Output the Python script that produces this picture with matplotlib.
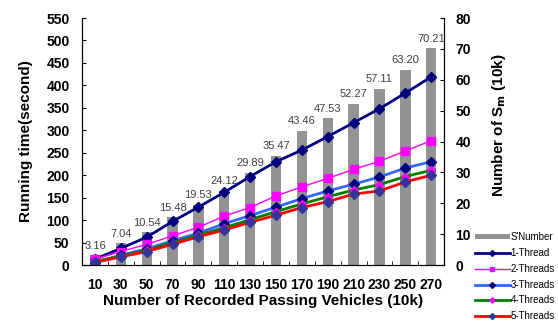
import numpy as np
import matplotlib.pyplot as plt

plt.rcParams['font.family'] = ['Liberation Sans', 'DejaVu Sans']

vehicles = [10, 30, 50, 70, 90, 110, 130, 150, 170, 190, 210, 230, 250, 270]
s_number = [3.16, 7.04, 10.54, 15.48, 19.53, 24.12, 29.89, 35.47, 43.46,
            47.53, 52.27, 57.11, 63.20, 70.21]
thread1 = [13, 37, 62, 97, 129, 162, 197, 230, 256, 286, 317, 348, 383, 419]
thread2 = [13, 30, 46, 65, 84, 109, 128, 154, 174, 193, 213, 231, 254, 277]
thread3 = [5, 22, 36, 54, 71, 92, 110, 129, 148, 165, 180, 196, 216, 230]
thread4 = [8, 20, 33, 50, 67, 83, 101, 119, 136, 152, 167, 179, 197, 211]
thread5 = [6, 18, 30, 46, 63, 78, 95, 111, 128, 141, 158, 165, 185, 200]

x = np.arange(len(vehicles))

fig = plt.figure(figsize=(5.58, 3.22), dpi=100)
ax = fig.add_axes([0.147, 0.177, 0.649, 0.767])
ax2 = ax.twinx()

# bars on the right axis, lines on the left one
ax.set_zorder(ax2.get_zorder() + 1)
ax.patch.set_visible(False)

bars = ax2.bar(x, s_number, width=0.4, color='#939393', label="S'Number")
for xi, v in zip(x, s_number):
    ax2.text(xi, v + 1.5, '%.2f' % v, ha='center', va='bottom',
             fontsize=8, color='#404040')

l1, = ax.plot(x, thread1, color='#000080', lw=2, marker='D', ms=5,
              mfc='#000080', mec='#000080', label='1-Thread')
l2, = ax.plot(x, thread2, color='#ff00ff', lw=1, marker='s', ms=6,
              mfc='#ff00ff', mec='#ff00ff', label='2-Threads')
l3, = ax.plot(x, thread3, color='#3366ff', lw=2, marker='D', ms=5,
              mfc='#000080', mec='#000080', label='3-Threads')
l4, = ax.plot(x, thread4, color='#008000', lw=2, marker='D', ms=4.5,
              mfc='#ff00ff', mec='#ff00ff', label='4-Threads')
l5, = ax.plot(x, thread5, color='#ff0000', lw=2, marker='D', ms=5,
              mfc='#333399', mec='#333399', label='5-Threads')

ax.set_xlim(-0.45, len(x) - 0.55)
ax.set_ylim(0, 550)
ax.set_yticks(np.arange(0, 551, 50))
ax2.set_ylim(0, 80)
ax2.set_yticks(np.arange(0, 81, 10))

ax.set_xticks(x)
ax.set_xticklabels([str(v) for v in vehicles])
ax.set_xticks(np.arange(len(x) + 1) - 0.5, minor=True)
ax.tick_params(axis='x', which='major', length=0, pad=9)
ax.tick_params(axis='x', which='minor', direction='in', length=3)
ax.tick_params(axis='y', direction='in', length=3, pad=9)
ax2.tick_params(axis='y', direction='in', length=3, pad=8)

for a in (ax, ax2):
    a.spines['top'].set_visible(False)
    for lab in a.get_xticklabels() + a.get_yticklabels():
        lab.set_fontweight('bold')
        lab.set_fontsize(10)

ax.set_xlabel('Number of Recorded Passing Vehicles (10k)', fontsize=11,
              fontweight='bold', labelpad=2)
ax.set_ylabel('Running time(second)', fontsize=11, fontweight='bold')
ax.yaxis.set_label_coords(-0.135, 0.5)
ax2.set_ylabel(r'Number of S$_\mathbf{m}$ (10k)', fontsize=11,
               fontweight='bold')
ax2.yaxis.set_label_coords(1.127, 0.567)

fig.legend([bars, l1, l2, l3, l4, l5],
           ["S'Number", '1-Thread', '2-Threads', '3-Threads', '4-Threads',
            '5-Threads'],
           loc='lower right', bbox_to_anchor=(1.01, -0.025), frameon=False,
           fontsize=7, handlelength=3.6, handleheight=0.5, handletextpad=0.1,
           labelspacing=0.6, markerscale=0.6)

fig.savefig('out.png', dpi=100)
